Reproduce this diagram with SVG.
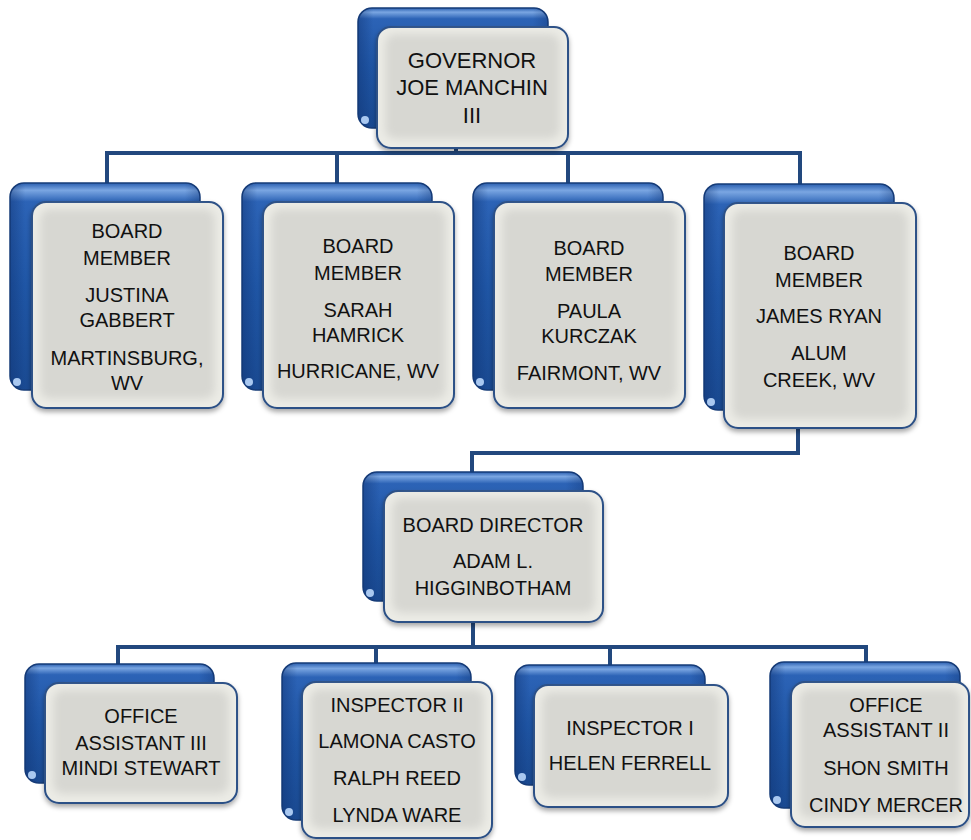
<svg xmlns="http://www.w3.org/2000/svg" width="971" height="840" viewBox="0 0 971 840">
<defs>
<linearGradient id="backG" x1="0" y1="0" x2="0" y2="1">
<stop offset="0" stop-color="#2a5fb0"/>
<stop offset="0.035" stop-color="#7aa6e2"/>
<stop offset="0.09" stop-color="#2c63b6"/>
<stop offset="0.5" stop-color="#1f56a6"/>
<stop offset="1" stop-color="#1a4a92"/>
</linearGradient>
<linearGradient id="backH" x1="0" y1="0" x2="1" y2="0">
<stop offset="0" stop-color="#0f3270" stop-opacity="0.45"/>
<stop offset="0.08" stop-color="#0f3270" stop-opacity="0"/>
<stop offset="0.92" stop-color="#0f3270" stop-opacity="0"/>
<stop offset="1" stop-color="#0f3270" stop-opacity="0.35"/>
</linearGradient>
<filter id="sh" x="-10%" y="-10%" width="120%" height="125%">
<feDropShadow dx="0" dy="3" stdDeviation="2.5" flood-color="#000" flood-opacity="0.35"/>
</filter>
<filter id="bl" x="-10%" y="-10%" width="120%" height="120%">
<feGaussianBlur stdDeviation="4"/>
</filter>
</defs>
<style>
.back{fill:url(#backG);stroke:#163c78;stroke-width:1.5}
.backh{fill:url(#backH)}
.spot{fill:#a9c8f0}
.front{fill:#ecece6;stroke:#2b4f86;stroke-width:2;filter:url(#sh)}
.inner{fill:#d7d7d2;filter:url(#bl)}
.t{font-family:"Liberation Sans",Arial,sans-serif;font-size:20px;fill:#111;text-anchor:middle}
.tg{font-size:22px}
.conn{fill:none;stroke:#22487e;stroke-width:4;stroke-linecap:square}
</style>
<g id="connectors">
<path class="conn" d="M456 148 V153 M107 153 H800 M107 153 V183 M337 153 V183 M568 153 V183 M800 153 V184"/>
<path class="conn" d="M798 428 V453 H472 V472"/>
<path class="conn" d="M473 622 V647 M118 647 H866 M118 647 V664 M376 647 V663 M610 647 V665 M866 647 V662"/>
</g>
<g id="governor">
<rect class="back" x="358" y="8" width="190" height="120" rx="14"/>
<rect class="backh" x="358" y="8" width="190" height="120" rx="14"/>
<circle class="spot" cx="365" cy="120" r="4"/>
<rect class="front" x="377" y="27" width="191" height="121" rx="14"/>
<rect class="inner" x="385" y="34" width="175" height="105" rx="10"/>
<text class="t tg" x="472" y="68">GOVERNOR</text>
<text class="t tg" x="472" y="95">JOE MANCHIN</text>
<text class="t tg" x="472" y="123">III</text>
</g>
<g id="bm1">
<rect class="back" x="10" y="183" width="190" height="207" rx="14"/>
<rect class="backh" x="10" y="183" width="190" height="207" rx="14"/>
<circle class="spot" cx="17" cy="382" r="4"/>
<rect class="front" x="32" y="202" width="191" height="206" rx="14"/>
<rect class="inner" x="40" y="209" width="175" height="190" rx="10"/>
<text class="t" x="127" y="238">BOARD</text>
<text class="t" x="127" y="265">MEMBER</text>
<text class="t" x="127" y="302">JUSTINA</text>
<text class="t" x="127" y="327">GABBERT</text>
<text class="t" x="127" y="365">MARTINSBURG,</text>
<text class="t" x="127" y="390">WV</text>
</g>
<g id="bm2">
<rect class="back" x="242" y="183" width="190" height="207" rx="14"/>
<rect class="backh" x="242" y="183" width="190" height="207" rx="14"/>
<circle class="spot" cx="249" cy="382" r="4"/>
<rect class="front" x="263" y="202" width="191" height="206" rx="14"/>
<rect class="inner" x="271" y="209" width="175" height="190" rx="10"/>
<text class="t" x="358" y="253">BOARD</text>
<text class="t" x="358" y="280">MEMBER</text>
<text class="t" x="358" y="317">SARAH</text>
<text class="t" x="358" y="342">HAMRICK</text>
<text class="t" x="358" y="378">HURRICANE, WV</text>
</g>
<g id="bm3">
<rect class="back" x="473" y="183" width="190" height="207" rx="14"/>
<rect class="backh" x="473" y="183" width="190" height="207" rx="14"/>
<circle class="spot" cx="480" cy="382" r="4"/>
<rect class="front" x="494" y="202" width="191" height="206" rx="14"/>
<rect class="inner" x="502" y="209" width="175" height="190" rx="10"/>
<text class="t" x="589" y="255">BOARD</text>
<text class="t" x="589" y="281">MEMBER</text>
<text class="t" x="589" y="318">PAULA</text>
<text class="t" x="589" y="343">KURCZAK</text>
<text class="t" x="589" y="380">FAIRMONT, WV</text>
</g>
<g id="bm4">
<rect class="back" x="704" y="184" width="190" height="226" rx="14"/>
<rect class="backh" x="704" y="184" width="190" height="226" rx="14"/>
<circle class="spot" cx="711" cy="402" r="4"/>
<rect class="front" x="724" y="203" width="192" height="225" rx="14"/>
<rect class="inner" x="732" y="210" width="176" height="209" rx="10"/>
<text class="t" x="819" y="260">BOARD</text>
<text class="t" x="819" y="287">MEMBER</text>
<text class="t" x="819" y="323">JAMES RYAN</text>
<text class="t" x="819" y="360">ALUM</text>
<text class="t" x="819" y="387">CREEK, WV</text>
</g>
<g id="director">
<rect class="back" x="363" y="472" width="220" height="129" rx="14"/>
<rect class="backh" x="363" y="472" width="220" height="129" rx="14"/>
<circle class="spot" cx="370" cy="593" r="4"/>
<rect class="front" x="384" y="491" width="219" height="131" rx="14"/>
<rect class="inner" x="392" y="498" width="203" height="115" rx="10"/>
<text class="t" x="493" y="532">BOARD DIRECTOR</text>
<text class="t" x="493" y="568">ADAM L.</text>
<text class="t" x="493" y="595">HIGGINBOTHAM</text>
</g>
<g id="oa3">
<rect class="back" x="25" y="664" width="189" height="119" rx="14"/>
<rect class="backh" x="25" y="664" width="189" height="119" rx="14"/>
<circle class="spot" cx="32" cy="775" r="4"/>
<rect class="front" x="45" y="683" width="192" height="120" rx="14"/>
<rect class="inner" x="53" y="690" width="176" height="104" rx="10"/>
<text class="t" x="141" y="723">OFFICE</text>
<text class="t" x="141" y="750">ASSISTANT III</text>
<text class="t" x="141" y="775">MINDI STEWART</text>
</g>
<g id="insp2">
<rect class="back" x="282" y="663" width="189" height="157" rx="14"/>
<rect class="backh" x="282" y="663" width="189" height="157" rx="14"/>
<circle class="spot" cx="289" cy="812" r="4"/>
<rect class="front" x="302" y="682" width="190" height="156" rx="14"/>
<rect class="inner" x="310" y="689" width="174" height="140" rx="10"/>
<text class="t" x="397" y="712">INSPECTOR II</text>
<text class="t" x="397" y="748">LAMONA CASTO</text>
<text class="t" x="397" y="785">RALPH REED</text>
<text class="t" x="397" y="822">LYNDA WARE</text>
</g>
<g id="insp1">
<rect class="back" x="515" y="665" width="190" height="120" rx="14"/>
<rect class="backh" x="515" y="665" width="190" height="120" rx="14"/>
<circle class="spot" cx="522" cy="777" r="4"/>
<rect class="front" x="534" y="685" width="194" height="122" rx="14"/>
<rect class="inner" x="542" y="692" width="178" height="106" rx="10"/>
<text class="t" x="630" y="735">INSPECTOR I</text>
<text class="t" x="630" y="770">HELEN FERRELL</text>
</g>
<g id="oa2">
<rect class="back" x="770" y="662" width="190" height="146" rx="14"/>
<rect class="backh" x="770" y="662" width="190" height="146" rx="14"/>
<circle class="spot" cx="777" cy="800" r="4"/>
<rect class="front" x="791" y="682" width="178" height="145" rx="14"/>
<rect class="inner" x="799" y="689" width="162" height="129" rx="10"/>
<text class="t" x="886" y="712">OFFICE</text>
<text class="t" x="886" y="737">ASSISTANT II</text>
<text class="t" x="886" y="775">SHON SMITH</text>
<text class="t" x="886" y="812">CINDY MERCER</text>
</g>
</svg>
